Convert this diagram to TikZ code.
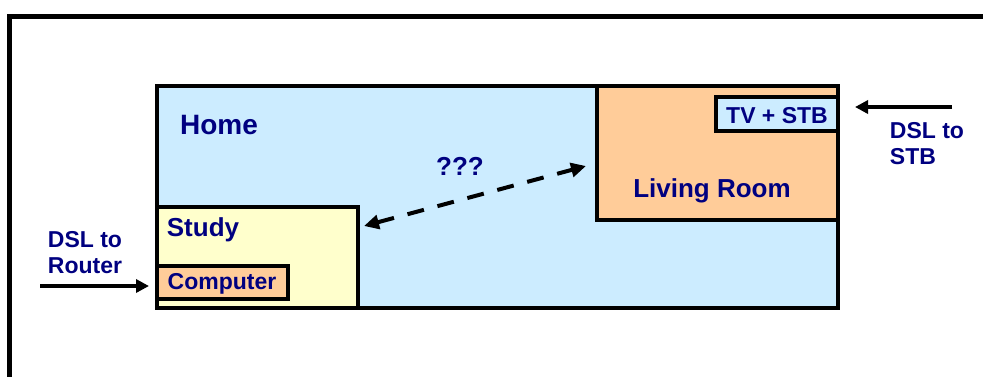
\documentclass[tikz,border=0pt]{standalone}
\usepackage{fontspec}
\setmainfont{Liberation Sans}
\usetikzlibrary{arrows.meta}
\definecolor{navy}{HTML}{000080}
\definecolor{homeblue}{HTML}{CCECFF}
\definecolor{studyyellow}{HTML}{FFFFCC}
\definecolor{roomorange}{HTML}{FFCC99}
\begin{document}
\begin{tikzpicture}[x=1pt,y=-1pt,
  room/.style={draw=black,line width=4pt},
  lbl/.style={text=navy,font=\bfseries\fontsize{26}{28}\selectfont,inner sep=0pt},
  small/.style={text=navy,font=\bfseries\fontsize{23}{26}\selectfont,inner sep=0pt,align=left},
  feed/.style={line width=3.5pt,-{Triangle[length=13pt,width=13pt]}}]
\useasboundingbox (0,0) rectangle (983,376);
\begin{scope}
\clip (0,0) rectangle (983,376);
% outer frame running off the right and bottom edges
\draw[line width=5.5pt] (9.5,400) -- (9.5,16.5) -- (1000,16.5);
\end{scope}
% rooms
\draw[room,fill=homeblue] (157,86) rectangle (838,308);
\node[lbl,font=\bfseries\fontsize{28}{30}\selectfont] (home) at (219,125) {Home};
\draw[room,fill=studyyellow] (157,207) rectangle (358,308);
\node[lbl] (study) at (203,230) {Study};
\draw[room,fill=roomorange] (157,266) rectangle (288,299);
\node[small] (computer) at (222,284) {Computer};
\draw[room,fill=roomorange] (597,86) rectangle (838,220);
\node[lbl] (living) at (712,191) {Living Room};
\draw[room,fill=homeblue] (716,97) rectangle (838,131);
\node[small] (tv) at (777,116) {TV + STB};
% unknown link between study and living room
\coordinate (sEnd) at (364,226);
\coordinate (lEnd) at (586,166);
\draw[line width=4pt,dash pattern=on 17pt off 14pt,
  {Triangle[length=15pt,width=14pt]}-{Triangle[length=15pt,width=14pt]}] (sEnd) -- (lEnd);
\node[lbl] (q) at (460,166) {???};
% incoming DSL lines
\node[small] (dslr) at (85,253) {DSL to\\Router};
\coordinate (rStart) at (40,286);
\coordinate (rEnd) at (149,286);
\draw[feed] (rStart) -- (rEnd);
\node[small] (dsls) at (927,144) {DSL to\\STB};
\coordinate (sStart) at (952,107);
\coordinate (sEndb) at (855,107);
\draw[feed] (sStart) -- (sEndb);
\end{tikzpicture}
\end{document}
